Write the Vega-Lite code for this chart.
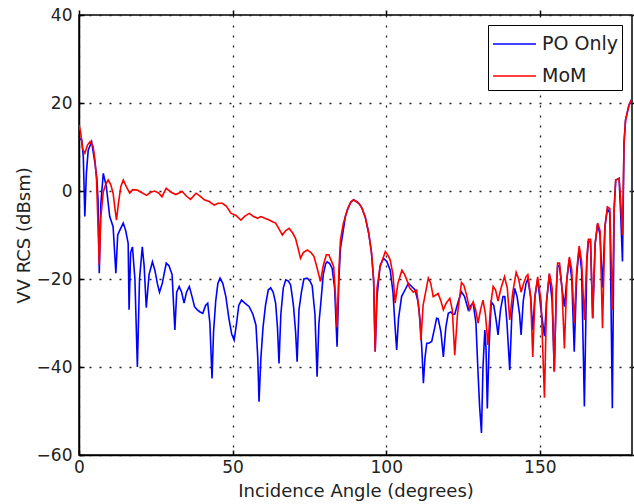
{
"$schema": "https://vega.github.io/schema/vega-lite/v6.json",
"width": 553, "height": 440,
"autosize": {"type": "none"},
"padding": {"left": 79, "top": 15, "right": 2, "bottom": 49},
"background": "white",
"config": {
  "view": {"stroke": "black", "strokeWidth": 1.5},
  "font": "DejaVu Sans",
  "axis": {"domainColor": "black", "domainWidth": 1.5, "grid": true, "gridColor": "#222", "gridDash": [2, 8], "gridWidth": 1.3, "tickColor": "black", "tickSize": -5, "tickWidth": 1.5, "labelFont": "DejaVu Sans", "labelFontSize": 17, "labelColor": "#222", "titleFont": "DejaVu Sans", "titleFontSize": 18, "titleFontWeight": "normal", "titleColor": "#222", "labelFlush": false},
  "legend": {"symbolType": "M-1,0H2.07", "symbolStrokeWidth": 1.6, "symbolSize": 784, "labelFontSize": 19, "labelFont": "DejaVu Sans", "labelColor": "#222", "padding": 4, "strokeColor": "black", "fillColor": "white", "rowPadding": 7, "labelOffset": 20}
},
"data": {"values": [
{"s":"PO Only","x":0,"y":12},{"s":"PO Only","x":0.9,"y":11.6},{"s":"PO Only","x":1.4,"y":7.8},{"s":"PO Only","x":1.9,"y":-5.8},{"s":"PO Only","x":2.4,"y":4},{"s":"PO Only","x":3,"y":9.3},{"s":"PO Only","x":4.1,"y":11.2},{"s":"PO Only","x":5.2,"y":6.3},{"s":"PO Only","x":5.8,"y":3},{"s":"PO Only","x":6.2,"y":-2},{"s":"PO Only","x":6.6,"y":-18.7},{"s":"PO Only","x":7.1,"y":-3},{"s":"PO Only","x":7.9,"y":4},{"s":"PO Only","x":8.9,"y":1},{"s":"PO Only","x":10,"y":-5.8},{"s":"PO Only","x":11.1,"y":-8.1},{"s":"PO Only","x":12,"y":-18.7},{"s":"PO Only","x":12.6,"y":-10},{"s":"PO Only","x":13.3,"y":-8.9},{"s":"PO Only","x":14.4,"y":-7.3},{"s":"PO Only","x":15.2,"y":-9},{"s":"PO Only","x":16,"y":-11.9},{"s":"PO Only","x":16.3,"y":-27},{"s":"PO Only","x":16.8,"y":-14},{"s":"PO Only","x":17.4,"y":-12.7},{"s":"PO Only","x":18.2,"y":-20},{"s":"PO Only","x":19,"y":-40},{"s":"PO Only","x":19.7,"y":-20},{"s":"PO Only","x":20.6,"y":-12.7},{"s":"PO Only","x":21.2,"y":-17},{"s":"PO Only","x":21.9,"y":-26.5},{"s":"PO Only","x":22.8,"y":-19},{"s":"PO Only","x":23.9,"y":-16.1},{"s":"PO Only","x":24.7,"y":-18},{"s":"PO Only","x":25.5,"y":-21},{"s":"PO Only","x":26.2,"y":-23},{"s":"PO Only","x":27.1,"y":-21},{"s":"PO Only","x":28.4,"y":-16.4},{"s":"PO Only","x":29.3,"y":-17},{"s":"PO Only","x":30.3,"y":-19},{"s":"PO Only","x":31.2,"y":-31.6},{"s":"PO Only","x":31.8,"y":-23},{"s":"PO Only","x":32.6,"y":-21.7},{"s":"PO Only","x":33.4,"y":-23},{"s":"PO Only","x":34.2,"y":-25.5},{"s":"PO Only","x":35,"y":-23},{"s":"PO Only","x":35.9,"y":-21.7},{"s":"PO Only","x":36.8,"y":-24},{"s":"PO Only","x":37.6,"y":-26.3},{"s":"PO Only","x":38.5,"y":-27},{"s":"PO Only","x":39.4,"y":-27.5},{"s":"PO Only","x":40.3,"y":-27.8},{"s":"PO Only","x":41.2,"y":-26},{"s":"PO Only","x":41.9,"y":-25.5},{"s":"PO Only","x":42.6,"y":-30},{"s":"PO Only","x":43.3,"y":-42.6},{"s":"PO Only","x":43.8,"y":-32},{"s":"PO Only","x":44.5,"y":-25},{"s":"PO Only","x":45.2,"y":-21},{"s":"PO Only","x":45.9,"y":-19.8},{"s":"PO Only","x":46.8,"y":-21},{"s":"PO Only","x":47.8,"y":-24},{"s":"PO Only","x":48.8,"y":-29},{"s":"PO Only","x":49.7,"y":-32.5},{"s":"PO Only","x":50.5,"y":-33.9},{"s":"PO Only","x":51.3,"y":-30},{"s":"PO Only","x":52,"y":-26},{"s":"PO Only","x":52.9,"y":-24.8},{"s":"PO Only","x":54,"y":-25.5},{"s":"PO Only","x":55.4,"y":-26.3},{"s":"PO Only","x":56.6,"y":-28},{"s":"PO Only","x":57.6,"y":-30.5},{"s":"PO Only","x":58.2,"y":-38},{"s":"PO Only","x":58.6,"y":-47.9},{"s":"PO Only","x":59.2,"y":-38},{"s":"PO Only","x":59.9,"y":-31},{"s":"PO Only","x":60.7,"y":-26},{"s":"PO Only","x":61.6,"y":-22.5},{"s":"PO Only","x":62.4,"y":-22},{"s":"PO Only","x":63.2,"y":-23},{"s":"PO Only","x":64,"y":-25.5},{"s":"PO Only","x":64.6,"y":-31},{"s":"PO Only","x":65.1,"y":-39.2},{"s":"PO Only","x":65.7,"y":-28},{"s":"PO Only","x":66.5,"y":-22},{"s":"PO Only","x":67.3,"y":-20.2},{"s":"PO Only","x":68.2,"y":-20.5},{"s":"PO Only","x":68.9,"y":-21.4},{"s":"PO Only","x":69.8,"y":-26},{"s":"PO Only","x":70.5,"y":-32},{"s":"PO Only","x":71,"y":-38.8},{"s":"PO Only","x":71.6,"y":-27},{"s":"PO Only","x":72.4,"y":-23},{"s":"PO Only","x":73.2,"y":-20},{"s":"PO Only","x":74.3,"y":-19.8},{"s":"PO Only","x":75.2,"y":-20.5},{"s":"PO Only","x":75.9,"y":-21.5},{"s":"PO Only","x":76.8,"y":-28},{"s":"PO Only","x":77.5,"y":-42.2},{"s":"PO Only","x":78.1,"y":-30},{"s":"PO Only","x":78.6,"y":-26.3},{"s":"PO Only","x":79.5,"y":-19},{"s":"PO Only","x":80.3,"y":-16.5},{"s":"PO Only","x":80.8,"y":-16.1},{"s":"PO Only","x":81.6,"y":-16.5},{"s":"PO Only","x":82.4,"y":-17.6},{"s":"PO Only","x":83.2,"y":-22},{"s":"PO Only","x":84,"y":-35.4},{"s":"PO Only","x":84.6,"y":-20},{"s":"PO Only","x":85.1,"y":-13},{"s":"PO Only","x":85.6,"y":-10.8},{"s":"PO Only","x":86.7,"y":-5.8},{"s":"PO Only","x":87.5,"y":-4},{"s":"PO Only","x":88.5,"y":-2.5},{"s":"PO Only","x":89.4,"y":-2},{"s":"PO Only","x":90.5,"y":-2.5},{"s":"PO Only","x":91.3,"y":-3},{"s":"PO Only","x":92.1,"y":-3.9},{"s":"PO Only","x":93.2,"y":-6},{"s":"PO Only","x":94.3,"y":-9.6},{"s":"PO Only","x":95.2,"y":-14},{"s":"PO Only","x":95.9,"y":-20.2},{"s":"PO Only","x":96.4,"y":-36.5},{"s":"PO Only","x":97,"y":-24},{"s":"PO Only","x":98,"y":-17},{"s":"PO Only","x":99.1,"y":-15.3},{"s":"PO Only","x":100.2,"y":-16},{"s":"PO Only","x":101.3,"y":-18},{"s":"PO Only","x":102.2,"y":-23},{"s":"PO Only","x":102.8,"y":-30},{"s":"PO Only","x":103.4,"y":-36.1},{"s":"PO Only","x":104,"y":-29},{"s":"PO Only","x":105,"y":-24},{"s":"PO Only","x":106.1,"y":-22.5},{"s":"PO Only","x":107.2,"y":-21},{"s":"PO Only","x":108.3,"y":-21.7},{"s":"PO Only","x":109.4,"y":-22.5},{"s":"PO Only","x":110.3,"y":-25},{"s":"PO Only","x":111,"y":-29.3},{"s":"PO Only","x":111.6,"y":-36},{"s":"PO Only","x":112.1,"y":-43.7},{"s":"PO Only","x":112.6,"y":-38},{"s":"PO Only","x":113.2,"y":-34.6},{"s":"PO Only","x":113.9,"y":-34.6},{"s":"PO Only","x":114.8,"y":-34.2},{"s":"PO Only","x":115.8,"y":-31},{"s":"PO Only","x":116.4,"y":-28.9},{"s":"PO Only","x":116.9,"y":-29},{"s":"PO Only","x":117.8,"y":-32},{"s":"PO Only","x":118.6,"y":-37.7},{"s":"PO Only","x":119.4,"y":-31},{"s":"PO Only","x":120.2,"y":-27.8},{"s":"PO Only","x":121,"y":-27.5},{"s":"PO Only","x":121.7,"y":-28},{"s":"PO Only","x":122.3,"y":-28},{"s":"PO Only","x":123.5,"y":-25},{"s":"PO Only","x":124.5,"y":-22.9},{"s":"PO Only","x":125.5,"y":-24},{"s":"PO Only","x":126.7,"y":-27},{"s":"PO Only","x":127.5,"y":-26},{"s":"PO Only","x":128.3,"y":-25.5},{"s":"PO Only","x":129.2,"y":-30},{"s":"PO Only","x":129.8,"y":-40},{"s":"PO Only","x":130.4,"y":-49},{"s":"PO Only","x":131,"y":-55},{"s":"PO Only","x":131.5,"y":-40},{"s":"PO Only","x":132.1,"y":-31.6},{"s":"PO Only","x":132.5,"y":-36},{"s":"PO Only","x":132.9,"y":-49.4},{"s":"PO Only","x":133.5,"y":-35},{"s":"PO Only","x":134.2,"y":-25.2},{"s":"PO Only","x":135,"y":-26},{"s":"PO Only","x":135.7,"y":-29},{"s":"PO Only","x":136.4,"y":-32.7},{"s":"PO Only","x":137.2,"y":-27},{"s":"PO Only","x":138,"y":-24},{"s":"PO Only","x":138.6,"y":-24},{"s":"PO Only","x":139.3,"y":-30},{"s":"PO Only","x":140.2,"y":-40.7},{"s":"PO Only","x":140.9,"y":-28},{"s":"PO Only","x":141.8,"y":-22.1},{"s":"PO Only","x":142.6,"y":-24},{"s":"PO Only","x":143.4,"y":-28},{"s":"PO Only","x":143.9,"y":-32.7},{"s":"PO Only","x":144.6,"y":-25},{"s":"PO Only","x":145.5,"y":-21},{"s":"PO Only","x":146.1,"y":-20},{"s":"PO Only","x":147,"y":-24},{"s":"PO Only","x":147.7,"y":-31.6},{"s":"PO Only","x":148.4,"y":-24},{"s":"PO Only","x":149.3,"y":-20},{"s":"PO Only","x":150.4,"y":-27},{"s":"PO Only","x":151.5,"y":-33},{"s":"PO Only","x":152.2,"y":-25},{"s":"PO Only","x":153.1,"y":-19},{"s":"PO Only","x":154,"y":-25},{"s":"PO Only","x":154.7,"y":-41},{"s":"PO Only","x":155.4,"y":-22},{"s":"PO Only","x":155.8,"y":-17},{"s":"PO Only","x":156.4,"y":-17},{"s":"PO Only","x":157.2,"y":-22},{"s":"PO Only","x":158,"y":-26.3},{"s":"PO Only","x":158.8,"y":-20},{"s":"PO Only","x":159.6,"y":-15.5},{"s":"PO Only","x":160.4,"y":-20},{"s":"PO Only","x":161.2,"y":-36.5},{"s":"PO Only","x":162,"y":-19},{"s":"PO Only","x":162.8,"y":-13},{"s":"PO Only","x":163.6,"y":-18},{"s":"PO Only","x":164.5,"y":-49},{"s":"PO Only","x":165.3,"y":-16},{"s":"PO Only","x":165.8,"y":-11.5},{"s":"PO Only","x":166.5,"y":-11.5},{"s":"PO Only","x":167.2,"y":-28.9},{"s":"PO Only","x":168,"y":-12},{"s":"PO Only","x":168.8,"y":-7.5},{"s":"PO Only","x":169.6,"y":-10},{"s":"PO Only","x":170.4,"y":-22},{"s":"PO Only","x":171.2,"y":-8},{"s":"PO Only","x":172,"y":-4},{"s":"PO Only","x":172.8,"y":-5},{"s":"PO Only","x":173.6,"y":-49.4},{"s":"PO Only","x":174.2,"y":-4},{"s":"PO Only","x":174.7,"y":2.5},{"s":"PO Only","x":175.3,"y":2.7},{"s":"PO Only","x":175.8,"y":2.9},{"s":"PO Only","x":176.3,"y":-5},{"s":"PO Only","x":176.9,"y":-16},{"s":"PO Only","x":177.4,"y":10.8},{"s":"PO Only","x":177.9,"y":16.1},{"s":"PO Only","x":179,"y":19.5},{"s":"PO Only","x":180,"y":21},
{"s":"MoM","x":0,"y":15},{"s":"MoM","x":0.5,"y":13.5},{"s":"MoM","x":1.2,"y":9.5},{"s":"MoM","x":1.9,"y":8.6},{"s":"MoM","x":2.8,"y":10.5},{"s":"MoM","x":3.6,"y":11.2},{"s":"MoM","x":4.6,"y":10.1},{"s":"MoM","x":5.2,"y":7},{"s":"MoM","x":5.7,"y":2.5},{"s":"MoM","x":6.2,"y":-8},{"s":"MoM","x":6.6,"y":-16.8},{"s":"MoM","x":7.1,"y":-6},{"s":"MoM","x":7.9,"y":-0.2},{"s":"MoM","x":8.7,"y":1.5},{"s":"MoM","x":9.5,"y":2.5},{"s":"MoM","x":10.3,"y":1.5},{"s":"MoM","x":11.1,"y":-0.5},{"s":"MoM","x":11.7,"y":-4},{"s":"MoM","x":12.2,"y":-6.6},{"s":"MoM","x":12.8,"y":-3},{"s":"MoM","x":13.6,"y":1},{"s":"MoM","x":14.4,"y":2.5},{"s":"MoM","x":15.4,"y":1},{"s":"MoM","x":16.5,"y":-0.5},{"s":"MoM","x":17.5,"y":0.3},{"s":"MoM","x":18.9,"y":0.2},{"s":"MoM","x":20.2,"y":-0.3},{"s":"MoM","x":22,"y":-1},{"s":"MoM","x":23.3,"y":-0.3},{"s":"MoM","x":24.7,"y":0},{"s":"MoM","x":26,"y":-0.5},{"s":"MoM","x":27,"y":-1.3},{"s":"MoM","x":28.4,"y":0.6},{"s":"MoM","x":30,"y":-0.3},{"s":"MoM","x":31.5,"y":-0.8},{"s":"MoM","x":33.6,"y":-0.1},{"s":"MoM","x":35,"y":-1.2},{"s":"MoM","x":36.3,"y":-1.9},{"s":"MoM","x":38.1,"y":-0.5},{"s":"MoM","x":39.5,"y":-1.2},{"s":"MoM","x":40.8,"y":-2},{"s":"MoM","x":42.4,"y":-2.4},{"s":"MoM","x":44,"y":-3.2},{"s":"MoM","x":45.3,"y":-2.8},{"s":"MoM","x":46.7,"y":-2.8},{"s":"MoM","x":48,"y":-3.5},{"s":"MoM","x":49.5,"y":-5.1},{"s":"MoM","x":51,"y":-5.5},{"s":"MoM","x":52.7,"y":-6.6},{"s":"MoM","x":54,"y":-5.7},{"s":"MoM","x":55.4,"y":-5.1},{"s":"MoM","x":56.8,"y":-5.8},{"s":"MoM","x":58.1,"y":-6.2},{"s":"MoM","x":59.2,"y":-5.8},{"s":"MoM","x":60.5,"y":-6.2},{"s":"MoM","x":61.9,"y":-6.6},{"s":"MoM","x":63,"y":-7},{"s":"MoM","x":64,"y":-7.3},{"s":"MoM","x":65,"y":-8.5},{"s":"MoM","x":66.2,"y":-10},{"s":"MoM","x":67.3,"y":-9},{"s":"MoM","x":68.4,"y":-8.5},{"s":"MoM","x":69.5,"y":-9.5},{"s":"MoM","x":70.5,"y":-10.8},{"s":"MoM","x":71.3,"y":-13},{"s":"MoM","x":72.1,"y":-15.3},{"s":"MoM","x":73,"y":-14},{"s":"MoM","x":74.3,"y":-13.4},{"s":"MoM","x":75.5,"y":-14},{"s":"MoM","x":76.5,"y":-14.9},{"s":"MoM","x":77.5,"y":-17.5},{"s":"MoM","x":78.6,"y":-20.6},{"s":"MoM","x":79.5,"y":-17},{"s":"MoM","x":80.5,"y":-14.5},{"s":"MoM","x":81.3,"y":-14.5},{"s":"MoM","x":82.2,"y":-16},{"s":"MoM","x":82.9,"y":-17.2},{"s":"MoM","x":83.5,"y":-24},{"s":"MoM","x":84,"y":-31},{"s":"MoM","x":84.6,"y":-18},{"s":"MoM","x":85.1,"y":-11.1},{"s":"MoM","x":86,"y":-7.5},{"s":"MoM","x":86.7,"y":-5.8},{"s":"MoM","x":87.5,"y":-4},{"s":"MoM","x":88.5,"y":-2.5},{"s":"MoM","x":89.4,"y":-2},{"s":"MoM","x":90.5,"y":-2.5},{"s":"MoM","x":91.3,"y":-3},{"s":"MoM","x":92.1,"y":-3.9},{"s":"MoM","x":93.2,"y":-6},{"s":"MoM","x":94.3,"y":-9.6},{"s":"MoM","x":95.2,"y":-14},{"s":"MoM","x":95.9,"y":-20.2},{"s":"MoM","x":96.4,"y":-36.5},{"s":"MoM","x":97,"y":-22},{"s":"MoM","x":98,"y":-17.2},{"s":"MoM","x":99.7,"y":-13.8},{"s":"MoM","x":100.5,"y":-14.5},{"s":"MoM","x":101.3,"y":-15.7},{"s":"MoM","x":102.2,"y":-19},{"s":"MoM","x":102.9,"y":-25.5},{"s":"MoM","x":103.8,"y":-21},{"s":"MoM","x":105.1,"y":-18},{"s":"MoM","x":106,"y":-19},{"s":"MoM","x":106.7,"y":-20.2},{"s":"MoM","x":107.6,"y":-22},{"s":"MoM","x":108.8,"y":-23},{"s":"MoM","x":109.9,"y":-22.5},{"s":"MoM","x":110.7,"y":-27},{"s":"MoM","x":111.3,"y":-33.9},{"s":"MoM","x":112,"y":-26},{"s":"MoM","x":113.7,"y":-19.8},{"s":"MoM","x":114.5,"y":-21},{"s":"MoM","x":115.3,"y":-24},{"s":"MoM","x":116.9,"y":-23.3},{"s":"MoM","x":117.8,"y":-25},{"s":"MoM","x":118.6,"y":-27},{"s":"MoM","x":119.5,"y":-25.5},{"s":"MoM","x":120.7,"y":-24.4},{"s":"MoM","x":121.5,"y":-27},{"s":"MoM","x":122.3,"y":-37.3},{"s":"MoM","x":123.2,"y":-28},{"s":"MoM","x":124.5,"y":-20.8},{"s":"MoM","x":125.3,"y":-21.5},{"s":"MoM","x":126.1,"y":-23.5},{"s":"MoM","x":127.2,"y":-27},{"s":"MoM","x":128.3,"y":-25.2},{"s":"MoM","x":129.1,"y":-27},{"s":"MoM","x":129.9,"y":-30},{"s":"MoM","x":130.7,"y":-27},{"s":"MoM","x":131.5,"y":-24.8},{"s":"MoM","x":132.3,"y":-28},{"s":"MoM","x":133.1,"y":-35},{"s":"MoM","x":134,"y":-26},{"s":"MoM","x":134.8,"y":-21.7},{"s":"MoM","x":135.6,"y":-22.5},{"s":"MoM","x":136.4,"y":-25},{"s":"MoM","x":137.4,"y":-22},{"s":"MoM","x":138.5,"y":-19.5},{"s":"MoM","x":139.4,"y":-22},{"s":"MoM","x":140.2,"y":-29.3},{"s":"MoM","x":141.2,"y":-23},{"s":"MoM","x":142.3,"y":-18.5},{"s":"MoM","x":143.1,"y":-20},{"s":"MoM","x":143.9,"y":-23},{"s":"MoM","x":144.7,"y":-21},{"s":"MoM","x":145.5,"y":-19.5},{"s":"MoM","x":146.1,"y":-19},{"s":"MoM","x":147,"y":-24},{"s":"MoM","x":147.7,"y":-37.7},{"s":"MoM","x":148.4,"y":-24},{"s":"MoM","x":149.3,"y":-19.5},{"s":"MoM","x":150.4,"y":-25},{"s":"MoM","x":151.5,"y":-47},{"s":"MoM","x":152.2,"y":-25},{"s":"MoM","x":153.1,"y":-18.7},{"s":"MoM","x":154,"y":-22},{"s":"MoM","x":154.7,"y":-41},{"s":"MoM","x":155.4,"y":-22},{"s":"MoM","x":155.8,"y":-16.4},{"s":"MoM","x":156.4,"y":-16.4},{"s":"MoM","x":157.2,"y":-22},{"s":"MoM","x":158,"y":-35.8},{"s":"MoM","x":158.8,"y":-20},{"s":"MoM","x":159.6,"y":-15},{"s":"MoM","x":160.4,"y":-18},{"s":"MoM","x":161.2,"y":-30},{"s":"MoM","x":162,"y":-18},{"s":"MoM","x":162.8,"y":-12.5},{"s":"MoM","x":163.6,"y":-16},{"s":"MoM","x":164.5,"y":-29.3},{"s":"MoM","x":165.3,"y":-15},{"s":"MoM","x":165.8,"y":-11},{"s":"MoM","x":166.5,"y":-11},{"s":"MoM","x":167.2,"y":-28.9},{"s":"MoM","x":168,"y":-12},{"s":"MoM","x":168.8,"y":-7.3},{"s":"MoM","x":169.6,"y":-9},{"s":"MoM","x":170.4,"y":-31.2},{"s":"MoM","x":171.2,"y":-8},{"s":"MoM","x":172,"y":-3.6},{"s":"MoM","x":172.8,"y":-4},{"s":"MoM","x":173.6,"y":-27},{"s":"MoM","x":174.2,"y":-4},{"s":"MoM","x":174.7,"y":2.5},{"s":"MoM","x":175.3,"y":2.7},{"s":"MoM","x":175.8,"y":2.9},{"s":"MoM","x":176.3,"y":-2},{"s":"MoM","x":176.9,"y":-10},{"s":"MoM","x":177.4,"y":10.8},{"s":"MoM","x":177.9,"y":16.1},{"s":"MoM","x":179,"y":19.5},{"s":"MoM","x":180,"y":21}
]},
"resolve": {"axis": {"x": "independent", "y": "independent"}},
"layer": [
  {"transform": [{"filter": "datum.s === 'PO Only'"}],
   "mark": {"type": "line", "strokeWidth": 1.6, "clip": true},
   "encoding": {
     "x": {"field": "x", "type": "quantitative", "scale": {"domain": [0, 180], "nice": false, "zero": false}, "axis": {"values": [0, 50, 100, 150], "title": "Incidence Angle (degrees)", "labelPadding": 9, "titlePadding": 7}},
     "y": {"field": "y", "type": "quantitative", "scale": {"domain": [-60, 40], "nice": false}, "axis": {"values": [-60, -40, -20, 0, 20, 40], "title": "VV RCS (dBsm)", "labelPadding": 12, "titlePadding": 3}},
     "color": {"field": "s", "type": "nominal", "scale": {"domain": ["PO Only", "MoM"], "range": ["#0000ff", "#ff0000"]}, "legend": {"title": null, "orient": "none", "legendX": 409, "legendY": 10}},
     "order": {"field": "x", "type": "quantitative"}
   }},
  {"transform": [{"filter": "datum.s === 'MoM'"}],
   "mark": {"type": "line", "strokeWidth": 1.6, "clip": true},
   "encoding": {
     "x": {"field": "x", "type": "quantitative", "axis": null},
     "y": {"field": "y", "type": "quantitative", "axis": null},
     "color": {"field": "s", "type": "nominal"},
     "order": {"field": "x", "type": "quantitative"}
   }},
  {"transform": [{"filter": "datum.s === 'MoM'"}],
   "mark": {"type": "line", "strokeOpacity": 0, "clip": true},
   "encoding": {
     "x": {"field": "x", "type": "quantitative", "axis": {"orient": "top", "values": [0, 50, 100, 150], "labels": false, "grid": false, "domain": false, "title": null, "tickSize": 5, "tickOffset": 0}},
     "y": {"field": "y", "type": "quantitative", "axis": {"orient": "right", "values": [-60, -40, -20, 0, 20, 40], "labels": false, "grid": false, "domain": false, "title": null, "tickSize": 5}}
   }}
]
}
